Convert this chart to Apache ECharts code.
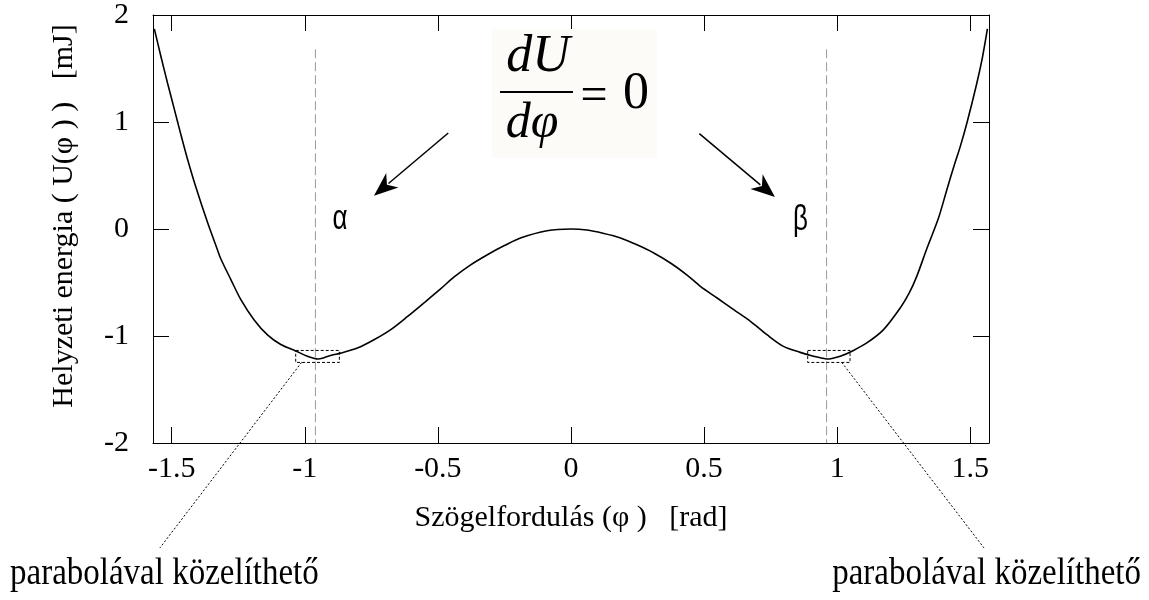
<!DOCTYPE html>
<html><head><meta charset="utf-8">
<script src="https://cdn.jsdelivr.net/npm/echarts@6/dist/echarts.min.js"></script>
<style>html,body{margin:0;padding:0;background:#fff}#c{width:1149px;height:600px}</style>
</head><body><div id="c"></div>
<script>
// ---- data ----
const phi = [-1.565,-1.54,-1.515,-1.49,-1.465,-1.44,-1.41,-1.365,-1.33,-1.315,-1.278,-1.24,-1.19,-1.14,-1.09,-1.034,-0.99,-0.97,-0.95,-0.93,-0.90,-0.865,-0.80,-0.74,-0.677,-0.615,-0.552,-0.49,-0.44,-0.377,-0.314,-0.25,-0.19,-0.09,0,0.06,0.12,0.186,0.25,0.311,0.375,0.436,0.486,0.549,0.611,0.674,0.736,0.798,0.861,0.911,0.94,0.961,0.98,1.011,1.061,1.111,1.174,1.236,1.27,1.299,1.337,1.38,1.412,1.44,1.462,1.487,1.524,1.545,1.564];
const energy = [1.87,1.61,1.36,1.12,0.88,0.65,0.40,0.06,-0.18,-0.28,-0.47,-0.66,-0.85,-0.99,-1.08,-1.14,-1.19,-1.205,-1.215,-1.205,-1.18,-1.16,-1.11,-1.035,-0.94,-0.82,-0.69,-0.56,-0.45,-0.335,-0.24,-0.155,-0.084,-0.016,0,-0.01,-0.04,-0.084,-0.15,-0.224,-0.32,-0.43,-0.536,-0.645,-0.754,-0.863,-0.988,-1.097,-1.153,-1.19,-1.205,-1.215,-1.21,-1.19,-1.135,-1.065,-0.94,-0.74,-0.6,-0.44,-0.18,0.10,0.37,0.60,0.77,0.99,1.36,1.60,1.87];
const xTicks = [-1.5,-1,-0.5,0,0.5,1,1.5];
const yTicks = [-2,-1,0,1,2];
const xLabel = 'Szögelfordulás (φ )   [rad]';
const yLabel = 'Helyzeti energia ( U(φ ) )   [mJ]';
const noteText = 'parabolával közelíthető';
// annotation anchors in data units
const minimaPhi = [-0.96, 0.96];
const minimaTopU = 1.68;
const boxesPhi = [[-1.034,-0.870],[0.889,1.048]];
const boxesU = [-1.135,-1.247];
const leaderStart = [[-1.012,-1.247],[1.017,-1.247]];
const leaderEnd = [[-1.544,-2.98],[1.551,-2.98]];
const arrowStart = [[-0.461,0.897],[0.482,0.891]];
const arrowTip = [[-0.740,0.311],[0.766,0.299]];
const greekLabels = ['α','β'];
const greekPos = [[-0.868,0.087],[0.862,0.082]];

const chart = echarts.init(document.getElementById('c'));
const serif = 'Liberation Serif, Times New Roman, serif';
const tickStyle = {show:true, inside:true, length:16, customValues:xTicks, lineStyle:{color:'#000',width:1}};
const axisLine = {show:true, onZero:false, lineStyle:{color:'#000',width:1}};
chart.setOption({
  animation:false,
  backgroundColor:'#fff',
  grid:{left:153,right:160,top:15,bottom:157},
  xAxis:[{
    type:'value',min:-1.57,max:1.57,position:'bottom',
    axisLine:axisLine, axisTick:tickStyle, splitLine:{show:false},
    axisLabel:{customValues:xTicks,fontFamily:serif,fontSize:30,color:'#000',margin:11},
    name:xLabel,nameLocation:'middle',nameGap:60,
    nameTextStyle:{fontFamily:serif,fontSize:30,color:'#000'}
  },{
    type:'value',min:-1.57,max:1.57,position:'top',
    axisLine:axisLine, axisTick:tickStyle, splitLine:{show:false},axisLabel:{show:false}
  }],
  yAxis:[{
    type:'value',min:-2,max:2,interval:1,position:'left',
    axisLine:axisLine, axisTick:{show:true,inside:true,length:16,lineStyle:{color:'#000'}}, splitLine:{show:false},
    axisLabel:{fontFamily:serif,fontSize:30,color:'#000',margin:24},
    name:yLabel,nameLocation:'middle',nameGap:74,nameRotate:90,
    nameTextStyle:{fontFamily:serif,fontSize:30,color:'#000',padding:[0,0,0,26]}
  },{
    type:'value',min:-2,max:2,interval:1,position:'right',
    axisLine:axisLine, axisTick:{show:true,inside:true,length:16,lineStyle:{color:'#000'}}, splitLine:{show:false},axisLabel:{show:false}
  }],
  series:[{
    type:'line',xAxisIndex:0,yAxisIndex:0,showSymbol:false,smooth:0.3,
    data:phi.map((p,i)=>[p,energy[i]]),
    lineStyle:{color:'#000',width:1.6}
  }]
});

const px = (pt)=>chart.convertToPixel({gridIndex:0},pt);
const g = [];
minimaPhi.forEach(m=>{
  const a=px([m,minimaTopU]), b=px([m,-2]);
  g.push({type:'line',shape:{x1:a[0],y1:a[1],x2:b[0],y2:b[1]},style:{stroke:'#999',lineWidth:1,lineDash:[9,4]},z:5});
});
boxesPhi.forEach(r=>{
  const a=px([r[0],boxesU[0]]), b=px([r[1],boxesU[1]]);
  g.push({type:'rect',shape:{x:a[0],y:a[1],width:b[0]-a[0],height:b[1]-a[1]},style:{fill:null,stroke:'#000',lineWidth:1,lineDash:[3,2]},z:6});
});
leaderStart.forEach((s,i)=>{
  const a=px(s), b=px(leaderEnd[i]);
  g.push({type:'line',shape:{x1:a[0],y1:a[1],x2:b[0],y2:b[1]},style:{stroke:'#000',lineWidth:1,lineDash:[2,2]},z:6});
});
arrowStart.forEach((s,i)=>{
  const a=px(s), t=px(arrowTip[i]);
  const dx=t[0]-a[0], dy=t[1]-a[1], L=Math.hypot(dx,dy), ux=dx/L, uy=dy/L;
  const hl=24, hw=9.5;
  const bx=t[0]-ux*hl, by=t[1]-uy*hl;
  g.push({type:'line',shape:{x1:a[0],y1:a[1],x2:bx+ux*5,y2:by+uy*5},style:{stroke:'#000',lineWidth:1.5},z:6});
  g.push({type:'polygon',shape:{points:[[t[0],t[1]],[bx-uy*hw,by+ux*hw],[bx+ux*7,by+uy*7],[bx+uy*hw,by-ux*hw]]},style:{fill:'#000'},z:6});
});
greekLabels.forEach((s,i)=>{
  const p=px(greekPos[i]);
  g.push({type:'text',x:p[0],y:p[1],scaleY:1.35,style:{text:s,font:'26px Liberation Sans, Arial, sans-serif',fill:'#000',align:'center',verticalAlign:'middle'},z:7});
});
// formula box
g.push({type:'rect',shape:{x:492,y:29,width:165,height:129},style:{fill:'#fcfbf8'},z:4});
g.push({type:'text',x:538,y:57,style:{text:'dU',font:'italic 52px '+serif,fill:'#000',align:'center',verticalAlign:'middle'},z:7});
g.push({type:'line',shape:{x1:500,y1:92,x2:573,y2:92},style:{stroke:'#000',lineWidth:2},z:7});
g.push({type:'text',x:532,y:124,style:{text:'dφ',font:'italic 50px '+serif,fill:'#000',align:'center',verticalAlign:'middle'},z:7});
g.push({type:'text',x:594,y:97,style:{text:'=',font:'48px '+serif,fill:'#000',align:'center',verticalAlign:'middle'},z:7});
g.push({type:'text',x:636,y:94,style:{text:'0',font:'52px '+serif,fill:'#000',align:'center',verticalAlign:'middle'},z:7});
// bottom notes
g.push({type:'text',x:10,y:574,scaleY:1.15,style:{text:noteText,font:'33px '+serif,fill:'#000',align:'left',verticalAlign:'middle'},z:7});
g.push({type:'text',x:1141,y:574,scaleY:1.15,style:{text:noteText,font:'33px '+serif,fill:'#000',align:'right',verticalAlign:'middle'},z:7});
chart.setOption({graphic:g});
</script></body></html>
